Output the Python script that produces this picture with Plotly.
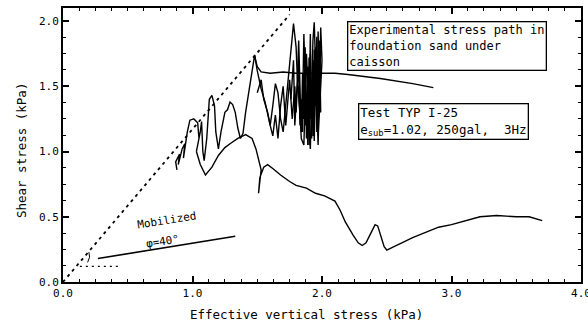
import plotly.graph_objects as go

# ---- data ----
osc_x = [0.88,0.87,0.90,0.89,0.92,0.94,0.93,0.96,0.98,1.01,1.04,1.05,1.03,1.06,1.07,1.08,1.09,1.11,1.13,1.15,
         1.17,1.18,1.20,1.22,1.25,1.27,1.29,1.31,1.33,1.35,1.37,1.39,1.41,1.43,1.46,1.48,1.50,1.53,1.56,1.58,
         1.60,1.62,1.64,1.66,1.68,1.70,1.72,1.74,1.76,1.78,1.80,1.81,1.83,1.84,1.86,1.87,1.88,1.89,1.90,1.91,
         1.92,1.93,1.94,1.95,1.96,1.97,1.98,1.99,2.00,1.97,1.96]
osc_y = [0.86,0.92,0.98,0.90,1.02,1.06,0.95,1.15,1.24,1.25,1.22,1.10,1.00,1.15,1.23,1.00,0.93,1.10,1.40,1.43,
         1.35,1.15,1.02,1.15,1.30,1.32,1.38,1.36,1.30,1.18,1.10,1.14,1.30,1.42,1.60,1.74,1.62,1.48,1.38,1.30,
         1.20,1.35,1.52,1.45,1.25,1.15,1.35,1.60,1.75,1.98,1.80,1.55,1.30,1.10,1.05,1.40,1.75,1.50,1.15,1.02,
         1.40,1.85,1.99,1.70,1.30,1.05,1.45,1.95,1.70,1.10,1.62]

loop_x = [1.50,1.53,1.55,1.58,1.60,1.62,1.64,1.66,1.68,1.70,1.72,1.74,1.75,1.77,1.79,1.80,1.82,1.83,1.85,1.86,
          1.88,1.89,1.90,1.91,1.92,1.93,1.94,1.95,1.96,1.97,1.98,1.99]
loop_y = [1.45,1.55,1.40,1.30,1.20,1.12,1.28,1.10,1.35,1.50,1.20,1.42,1.55,1.25,1.50,1.30,1.70,1.20,1.35,1.90,
          1.20,1.60,1.05,1.75,1.10,1.55,1.25,1.80,1.15,1.92,1.40,1.85]

dense_x = [1.76,1.78,1.79,1.81,1.82,1.84,1.85,1.86,1.87,1.88,1.89,1.90,1.91,1.92,1.93,1.94,1.95,1.96,1.97,1.98,
           1.99,1.98,1.97,1.96,1.95,1.94,1.93,1.92,1.91,1.90,1.89,1.88,1.87,1.86,1.85,1.84,1.83,1.82]
dense_y = [1.40,1.70,1.20,1.55,1.85,1.15,1.60,1.25,1.80,1.10,1.65,1.30,1.90,1.20,1.70,1.08,1.50,1.88,1.25,1.70,
           1.30,1.85,1.15,1.60,1.35,1.78,1.12,1.55,1.25,1.72,1.05,1.45,1.20,1.60,1.15,1.40,1.25,1.50]

upper_x = [1.48,1.50,1.53,1.60,1.70,1.80,1.90,1.98,2.10,2.20,2.45,2.70,2.86]
upper_y = [1.73,1.65,1.61,1.60,1.61,1.60,1.60,1.60,1.60,1.59,1.56,1.52,1.49]

lower_x = [1.03,1.06,1.10,1.15,1.20,1.25,1.29,1.35,1.41,1.46,1.49,1.52,1.53,1.51,1.52,1.55,1.58,1.62,1.68,1.75,
           1.80,1.88,1.95,2.02,2.10,2.14,2.18,2.24,2.28,2.31,2.34,2.38,2.41,2.43,2.46,2.48,2.50,2.55,2.62,2.70,
           2.80,2.90,3.00,3.10,3.22,3.35,3.50,3.60,3.70]
lower_y = [1.00,0.90,0.82,0.88,0.97,1.03,1.06,1.10,1.13,1.10,1.02,0.91,0.86,0.68,0.80,0.88,0.90,0.87,0.82,0.77,
           0.74,0.72,0.68,0.66,0.62,0.55,0.46,0.36,0.30,0.28,0.30,0.38,0.44,0.43,0.34,0.27,0.245,0.27,0.30,0.34,
           0.38,0.42,0.44,0.47,0.50,0.51,0.50,0.50,0.47]

fail_x = [0.0, 1.75]
fail_y = [0.0, 2.05]
mob_x = [0.27, 1.33]
mob_y = [0.18, 0.35]
hor_x = [0.13, 0.44]
hor_y = [0.12, 0.12]
arc_x = [0.19, 0.205, 0.20]
arc_y = [0.15, 0.19, 0.23]

xticks = [0.0, 1.0, 2.0, 3.0, 4.0]
xtick_text = ["0.0", "1.0", "2.0", "3.0", "4.0"]
yticks = [0.0, 0.5, 1.0, 1.5, 2.0]
ytick_text = ["0.0", "0.5", "1.0", "1.5", "2.0"]

FONT = "DejaVu Sans Mono"
fig = go.Figure()
line = dict(color="black", width=1.4)
fig.add_trace(go.Scatter(x=fail_x, y=fail_y, mode="lines", line=dict(color="black", width=1.8, dash="3px,4px")))
fig.add_trace(go.Scatter(x=hor_x, y=hor_y, mode="lines", line=dict(color="black", width=1.4, dash="2px,4px")))
fig.add_trace(go.Scatter(x=arc_x, y=arc_y, mode="lines", line=dict(color="black", width=1)))
fig.add_trace(go.Scatter(x=mob_x, y=mob_y, mode="lines", line=dict(color="black", width=1.6)))
fig.add_trace(go.Scatter(x=osc_x, y=osc_y, mode="lines", line=line))
fig.add_trace(go.Scatter(x=loop_x, y=loop_y, mode="lines", line=line))
fig.add_trace(go.Scatter(x=dense_x, y=dense_y, mode="lines", line=line))
fig.add_trace(go.Scatter(x=upper_x, y=upper_y, mode="lines", line=line))
fig.add_trace(go.Scatter(x=lower_x, y=lower_y, mode="lines", line=line))

axis_common = dict(showgrid=False, zeroline=False, showline=True, linecolor="black", linewidth=2,
                   mirror="ticks", ticks="inside", ticklen=6, tickwidth=1.5, tickcolor="black",
                   ticklabeloverflow="allow", automargin=False,
                   tickfont=dict(family=FONT, size=11, color="black"),
                   minor=dict(ticks="inside", ticklen=3, tickcolor="black", tickwidth=1, dtick=0.125))
fig.update_xaxes(range=[0, 4.0], tickvals=xticks, ticktext=xtick_text, **axis_common)
fig.update_yaxes(range=[0, 2.1], tickvals=yticks, ticktext=ytick_text, **axis_common)

anns = [
    dict(x=0.471, y=-0.12, xref="paper", yref="paper", yanchor="middle", text="Effective vertical stress (kPa)",
         showarrow=False, font=dict(family=FONT, size=12.5, color="black")),
    dict(x=-0.08, y=0.48, xref="paper", yref="paper", xanchor="center", yanchor="middle",
         text="Shear stress (kPa)", textangle=-90,
         showarrow=False, font=dict(family=FONT, size=12.5, color="black")),
    dict(x=0.548, y=0.952, xref="paper", yref="paper", xanchor="left", yanchor="top", align="left",
         text="Experimental stress path in<br>foundation sand under<br>caisson", showarrow=False,
         bordercolor="black", borderwidth=1.3, borderpad=1, bgcolor="white",
         font=dict(family=FONT, size=12, color="black")),
    dict(x=0.569, y=0.655, xref="paper", yref="paper", xanchor="left", yanchor="top", align="left",
         text="Test TYP I-25<br>e<sub>sub</sub>=1.02, 250gal,  3Hz", showarrow=False,
         bordercolor="black", borderwidth=1.3, borderpad=1, bgcolor="white",
         font=dict(family=FONT, size=12.5, color="black")),
    dict(x=0.80, y=0.47, xref="x", yref="y", text="Mobilized", textangle=-9, showarrow=False,
         font=dict(family=FONT, size=11, color="black")),
    dict(x=0.77, y=0.31, xref="x", yref="y", text="φ=40°", textangle=-9, showarrow=False,
         font=dict(family=FONT, size=11, color="black")),
]
fig.update_layout(width=588, height=327, margin=dict(l=63, r=7, t=8, b=45, autoexpand=False),
                  plot_bgcolor="white", paper_bgcolor="white", showlegend=False, annotations=anns)
fig.write_html("out.html")
